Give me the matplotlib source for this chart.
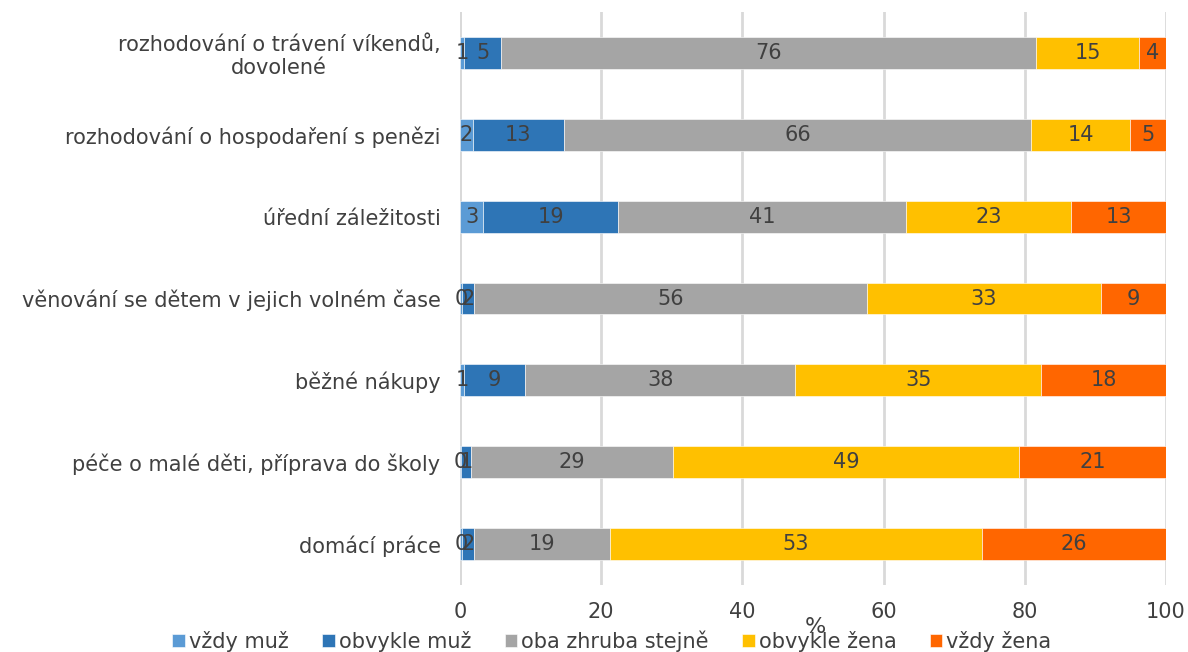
import matplotlib

matplotlib.use("Agg")
import matplotlib.pyplot as plt
import numpy as np

# kategorie shora dolů
categories = [
    "rozhodování o trávení víkendů,\ndovolené",
    "rozhodování o hospodaření s penězi",
    "úřední záležitosti",
    "věnování se dětem v jejich volném čase",
    "běžné nákupy",
    "péče o malé děti, příprava do školy",
    "domácí práce",
]
series = ["vždy muž", "obvykle muž", "oba zhruba stejně", "obvykle žena", "vždy žena"]

vzdy_muz = [0.6, 1.8, 3.3, 0.3, 0.6, 0.2, 0.3]
obvykle_muz = [5.2, 12.9, 19.1, 1.7, 8.6, 1.3, 1.7]
oba_stejne = [75.8, 66.2, 40.8, 55.6, 38.3, 28.7, 19.2]
obvykle_zena = [14.6, 14.0, 23.4, 33.2, 34.8, 49.0, 52.7]
vzdy_zena = [3.8, 5.1, 13.4, 9.2, 17.7, 20.8, 26.1]

colors = ["#5B9BD5", "#2E75B6", "#A5A5A5", "#FFC000", "#FF6600"]
TEXT = "#404040"
GRID = "#D9D9D9"

fig = plt.figure(figsize=(11.88, 6.52), dpi=100)
ax = fig.add_axes((460 / 1188, 1 - 585 / 652, 706 / 1188, 573 / 652))

y = np.arange(len(categories))[::-1]
left = np.zeros(len(categories))
for name, vals, col in zip(series, [vzdy_muz, obvykle_muz, oba_stejne, obvykle_zena, vzdy_zena], colors):
    vals = np.array(vals)
    ax.barh(y, vals, left=left, height=0.39, color=col, label=name,
            edgecolor="white", linewidth=0.4, zorder=3)
    for yi, l, v in zip(y, left, vals):
        ax.text(l + v / 2, yi, f"{v:.0f}", ha="center", va="center",
                fontsize=15, color=TEXT, zorder=4)
    left += vals

ax.set_xlim(0, 100)
ax.set_ylim(-0.5, 6.5)
ax.set_xticks([0, 20, 40, 60, 80, 100])
ax.set_yticks(y)
ax.set_yticklabels(categories, fontsize=15, color=TEXT, multialignment="center")
ax.tick_params(axis="x", labelsize=15, labelcolor=TEXT, length=0, pad=12)
ax.tick_params(axis="y", length=0, pad=14)
ax.grid(axis="x", color=GRID, linewidth=2, zorder=0)
for s in ax.spines.values():
    s.set_visible(False)
ax.axvline(0, color=GRID, linewidth=2, zorder=1)

fig.text(815 / 1188, 1 - 627 / 652, "%", ha="center", va="center", fontsize=16, color=TEXT)

fig.legend(loc="center", bbox_to_anchor=(612 / 1188, 1 - 641 / 652), ncol=5,
           frameon=False, fontsize=15, handlelength=0.6, handleheight=0.6,
           handletextpad=0.2, columnspacing=1.6, labelcolor=TEXT)

fig.savefig("out.png", dpi=100)
